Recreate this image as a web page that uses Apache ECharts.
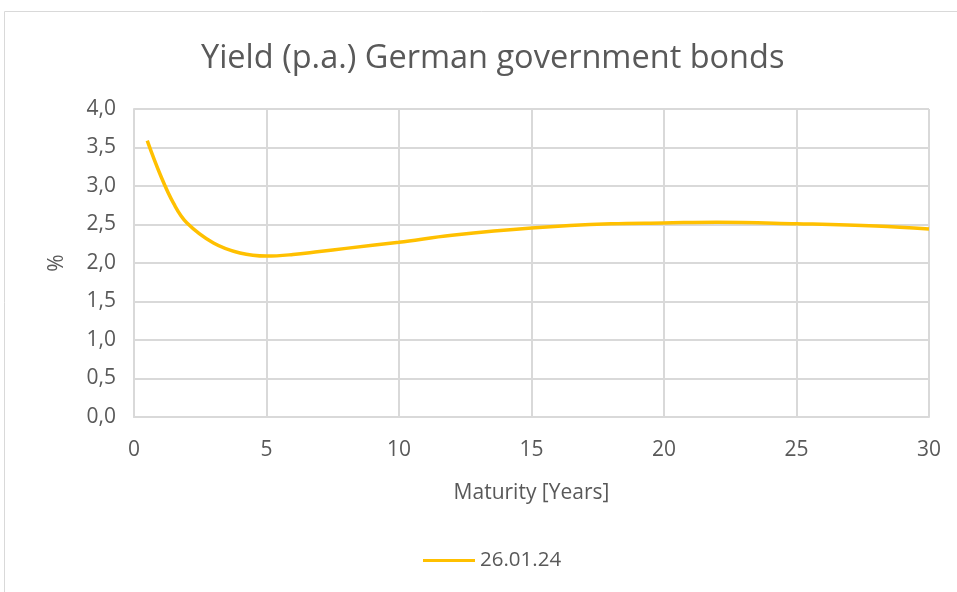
<!DOCTYPE html>
<html><head><meta charset="utf-8">
<script src="https://cdn.jsdelivr.net/npm/echarts@6/dist/echarts.min.js"></script>
<style>html,body{margin:0;padding:0;background:#fff}#c{width:957px;height:592px}</style>
</head><body><div id="c"></div>
<script>
const maturities = [0.5, 1, 1.5, 2, 3, 4, 5, 6, 7, 8, 10, 12, 15, 18, 20, 22, 25, 28, 30];
const yields = [3.59, 3.14, 2.77, 2.52, 2.26, 2.13, 2.09, 2.11, 2.15, 2.19, 2.27, 2.36, 2.455, 2.51, 2.52, 2.53, 2.51, 2.48, 2.44];
const seriesName = '26.01.24';
const titleText = 'Yield (p.a.) German government bonds';
const xName = 'Maturity [Years]';
const yName = '%';

const chart = echarts.init(document.getElementById('c'));
const font = 'Open Sans';
chart.setOption({
  animation: false,
  graphic: [{type:'rect', shape:{x:4.5,y:11.5,width:1000,height:1000}, style:{fill:'none', stroke:'#d9d9d9', lineWidth:1}, silent:true}],
  title: {text: titleText, left: 196, top: 37, textStyle:{fontFamily:font, fontSize:32.5, fontWeight:'normal', color:'#595959'}},
  grid: {left:134, right:28, top:109, bottom:175, containLabel:false},
  legend: {bottom: 16, left: 418, itemWidth:52, itemHeight:3, itemGap:6, icon:'rect', textStyle:{fontFamily:font, fontSize:20.5, color:'#595959'}, data:[seriesName]},
  xAxis: {type:'value', min:0, max:30, interval:5, name:xName, nameLocation:'middle', nameGap:66,
    nameTextStyle:{fontFamily:font, fontSize:21, color:'#595959'},
    axisLine:{show:true, lineStyle:{color:'#d9d9d9', width:2}}, axisTick:{show:false},
    axisLabel:{fontFamily:font, fontSize:21, color:'#595959', margin:23},
    splitLine:{show:true, lineStyle:{color:'#d9d9d9', width:2}}},
  yAxis: {type:'value', min:0, max:4, interval:0.5, name:yName, nameLocation:'middle', nameGap:66, nameRotate:90,
    nameTextStyle:{fontFamily:font, fontSize:21, color:'#595959'},
    axisLine:{show:true, lineStyle:{color:'#d9d9d9', width:2}}, axisTick:{show:false},
    axisLabel:{fontFamily:font, fontSize:21, color:'#595959', margin:18, formatter:v=>v.toFixed(1).replace('.',',')},
    splitLine:{show:true, lineStyle:{color:'#d9d9d9', width:2}}},
  series: [{name:seriesName, type:'line', smooth:0.4, showSymbol:false, symbol:'none',
    lineStyle:{color:'#FFC000', width:3.5}, itemStyle:{color:'#FFC000'},
    data: maturities.map((m,i)=>[m, yields[i]])}]
});
</script></body></html>
